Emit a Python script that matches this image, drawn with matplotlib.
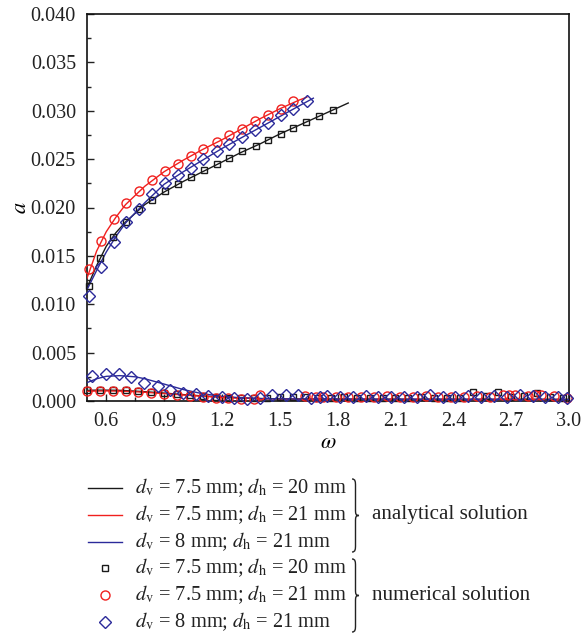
import matplotlib
matplotlib.use("Agg")
import matplotlib.pyplot as plt
from matplotlib.lines import Line2D
from matplotlib.path import Path
from matplotlib.patches import PathPatch
from matplotlib.ticker import MultipleLocator

plt.rcParams['font.family'] = ['Liberation Serif', 'DejaVu Serif']
plt.rcParams['mathtext.fontset'] = 'stix'

# ---------------- analytical solutions (upper branch) ----------------
ana_omega_k = [0.5, 0.55, 0.6, 0.65, 0.7, 0.8, 0.9, 1.0, 1.1, 1.2, 1.3, 1.4, 1.5, 1.6, 1.7, 1.8, 1.855]
ana_a_k = [0.0117, 0.0140, 0.0160, 0.0174, 0.0185, 0.0203, 0.0216, 0.0227, 0.0237, 0.0247,
           0.0257, 0.0266, 0.0276, 0.0285, 0.0294, 0.0303, 0.0308]

ana_omega_r = [0.5, 0.55, 0.6, 0.65, 0.7, 0.8, 0.9, 1.0, 1.1, 1.2, 1.3, 1.4, 1.5, 1.6, 1.64]
ana_a_r = [0.0127, 0.0155, 0.0175, 0.0190, 0.0203, 0.0222, 0.0237, 0.0249, 0.0260, 0.0270,
           0.0281, 0.0292, 0.0302, 0.0311, 0.0314]

ana_omega_b = [0.5, 0.55, 0.6, 0.65, 0.7, 0.8, 0.9, 1.0, 1.1, 1.2, 1.3, 1.4, 1.5, 1.6, 1.674]
ana_a_b = [0.0115, 0.0135, 0.0154, 0.0170, 0.0184, 0.0205, 0.0224, 0.0237, 0.0249, 0.0261,
           0.0272, 0.0283, 0.0294, 0.0305, 0.0313]

# ---------------- analytical solutions (lower branch) ----------------
low_ana_omega = [0.5, 0.55, 0.6, 0.67, 0.75, 0.8, 0.9, 1.0, 1.1, 1.2, 1.3, 1.4, 1.6, 2.0, 2.5, 3.0]
low_ana_k = [0.00110, 0.00112, 0.00112, 0.00110, 0.00102, 0.00096, 0.00082, 0.00066, 0.00052, 0.00040,
             0.00031, 0.00025, 0.00020, 0.00018, 0.00017, 0.00016]
low_ana_r = [0.00100, 0.00103, 0.00104, 0.00102, 0.00096, 0.00090, 0.00077, 0.00062, 0.00049, 0.00038,
             0.00030, 0.00024, 0.00019, 0.00017, 0.00016, 0.00015]
low_ana_b = [0.00190, 0.00230, 0.00255, 0.00262, 0.00250, 0.00230, 0.00175, 0.00118, 0.00075, 0.00048,
             0.00033, 0.00025, 0.00020, 0.00018, 0.00017, 0.00016]

# ---------------- numerical solutions (upper branch) ----------------
num_omega_k = [0.508, 0.569, 0.635, 0.702, 0.771, 0.837, 0.904, 0.971, 1.039, 1.108, 1.174, 1.239,
               1.306, 1.374, 1.441, 1.507, 1.570, 1.636, 1.705, 1.775]
num_a_k = [0.01192, 0.01479, 0.01699, 0.01848, 0.01987, 0.02080, 0.02169, 0.02238, 0.02314, 0.02383,
           0.02453, 0.02515, 0.02580, 0.02635, 0.02701, 0.02764, 0.02826, 0.02881, 0.02946, 0.03005]

num_omega_r = [0.508, 0.572, 0.638, 0.704, 0.771, 0.837, 0.904, 0.970, 1.039, 1.104, 1.174, 1.239,
               1.306, 1.372, 1.438, 1.505, 1.570]
num_a_r = [0.01365, 0.01658, 0.01883, 0.02045, 0.02169, 0.02280, 0.02373, 0.02446, 0.02528, 0.02608,
           0.02677, 0.02746, 0.02815, 0.02891, 0.02953, 0.03023, 0.03098]

num_omega_b = [0.508, 0.572, 0.638, 0.704, 0.771, 0.837, 0.904, 0.970, 1.039, 1.104, 1.174, 1.239,
               1.306, 1.372, 1.441, 1.507, 1.570, 1.640]
num_a_b = [0.01088, 0.01382, 0.01641, 0.01848, 0.01987, 0.02135, 0.02252, 0.02332, 0.02411, 0.02497,
           0.02583, 0.02660, 0.02728, 0.02805, 0.02874, 0.02953, 0.03023, 0.03102]

# ---------------- numerical solutions (lower branch) ----------------
low_omega_k = [0.500, 0.567, 0.633, 0.700, 0.767, 0.833, 0.900, 0.967, 1.033, 1.100, 1.167, 1.233,
               1.300, 1.367, 1.433, 1.500, 1.567, 1.633, 1.700, 1.767, 1.833, 1.900, 1.967, 2.033,
               2.100, 2.167, 2.233, 2.300, 2.367, 2.433, 2.500, 2.567, 2.633, 2.700, 2.767, 2.833,
               2.900, 2.967]
low_a_k = [0.00110, 0.00118, 0.00118, 0.00112, 0.00100, 0.00090, 0.00080, 0.00070, 0.00060, 0.00050,
           0.00042, 0.00036, 0.00030, 0.00030, 0.00035, 0.00040, 0.00045, 0.00045, 0.00035, 0.00035,
           0.00038, 0.00035, 0.00033, 0.00036, 0.00034, 0.00035, 0.00037, 0.00033, 0.00036, 0.00035,
           0.00090, 0.00050, 0.00092, 0.00045, 0.00050, 0.00082, 0.00045, 0.00030]

low_omega_r = [0.500, 0.567, 0.633, 0.700, 0.767, 0.833, 0.900, 0.967, 1.033, 1.100, 1.167, 1.233,
               1.300, 1.367, 1.398, 1.633, 1.690, 1.722, 1.789, 1.856, 1.922, 1.989, 2.056, 2.122,
               2.189, 2.256, 2.322, 2.389, 2.456, 2.522, 2.589, 2.656, 2.690, 2.722, 2.789, 2.822,
               2.856, 2.922, 2.989]
low_a_r = [0.00100, 0.00105, 0.00106, 0.00100, 0.00092, 0.00084, 0.00072, 0.00062, 0.00052, 0.00044,
           0.00036, 0.00030, 0.00025, 0.00022, 0.00060, 0.00055, 0.00040, 0.00038, 0.00040, 0.00045,
           0.00042, 0.00040, 0.00048, 0.00040, 0.00044, 0.00050, 0.00042, 0.00045, 0.00040, 0.00050,
           0.00045, 0.00065, 0.00060, 0.00065, 0.00055, 0.00065, 0.00060, 0.00050, 0.00035]

low_omega_b = [0.526, 0.600, 0.664, 0.730, 0.797, 0.866, 0.932, 0.997, 1.066, 1.130, 1.199, 1.263,
               1.329, 1.398, 1.462, 1.531, 1.596, 1.661, 1.711, 1.745, 1.811, 1.878, 1.945, 2.011,
               2.078, 2.145, 2.211, 2.278, 2.345, 2.411, 2.478, 2.545, 2.611, 2.678, 2.745, 2.811,
               2.878, 2.945, 2.990]
low_a_b = [0.00259, 0.00283, 0.00283, 0.00252, 0.00190, 0.00152, 0.00117, 0.00086, 0.00069, 0.00052,
           0.00041, 0.00028, 0.00024, 0.00028, 0.00059, 0.00059, 0.00059, 0.00034, 0.00040, 0.00055,
           0.00045, 0.00040, 0.00055, 0.00042, 0.00040, 0.00045, 0.00040, 0.00060, 0.00045, 0.00040,
           0.00055, 0.00040, 0.00050, 0.00045, 0.00060, 0.00050, 0.00045, 0.00040, 0.00030]

x_ticks = [0.6, 0.9, 1.2, 1.5, 1.8, 2.1, 2.4, 2.7, 3.0]
y_ticks = [0.000, 0.005, 0.010, 0.015, 0.020, 0.025, 0.030, 0.035, 0.040]

BLACK = '#1a1a1a'
RED = '#f0201e'
BLUE = '#2b2a9a'
TEXT = '#222222'

fig = plt.figure(figsize=(5.82, 6.37), dpi=100)
ax = fig.add_axes([87 / 582, 1 - 401 / 637, (569 - 87) / 582, (401 - 14) / 637])

lw = 1.0
ax.plot(ana_omega_k, ana_a_k, color=BLACK, lw=lw, zorder=3)
ax.plot(ana_omega_r, ana_a_r, color=RED, lw=lw, zorder=3)
ax.plot(ana_omega_b, ana_a_b, color=BLUE, lw=lw, zorder=3)
ax.plot(low_ana_omega, low_ana_k, color=BLACK, lw=lw, zorder=3)
ax.plot(low_ana_omega, low_ana_r, color=RED, lw=lw, zorder=3)
ax.plot(low_ana_omega, low_ana_b, color=BLUE, lw=lw, zorder=3)

SQ, CI, DI = 5.0, 6.5, 6.3
mk = dict(linestyle='none', markerfacecolor='none', markeredgewidth=1.0, zorder=4, clip_on=False)
ax.plot(num_omega_k + low_omega_k, num_a_k + low_a_k, marker='s', markersize=SQ,
        markeredgecolor=BLACK, **mk)
ax.plot(num_omega_r + low_omega_r, num_a_r + low_a_r, marker='o', markersize=CI,
        markeredgecolor=RED, **mk)
ax.plot(num_omega_b + low_omega_b, num_a_b + low_a_b, marker='D', markersize=DI,
        markeredgecolor=BLUE, **mk)

ax.set_xlim(0.5, 3.0)
ax.set_ylim(0.0, 0.040)
ax.set_xticks(x_ticks)
ax.set_yticks(y_ticks)
ax.set_xticklabels([f'{v:.1f}' for v in x_ticks])
ax.set_yticklabels([f'{v:.3f}' for v in y_ticks])
ax.xaxis.set_minor_locator(MultipleLocator(0.15))
ax.yaxis.set_minor_locator(MultipleLocator(0.0025))
ax.tick_params(which='both', direction='in', top=False, right=False, width=1.0, labelsize=14.5,
               colors=TEXT)
ax.tick_params(which='major', length=5)
ax.tick_params(which='minor', length=3)
ax.tick_params(axis='x', pad=8)
ax.tick_params(axis='y', pad=8)
for s in ax.spines.values():
    s.set_linewidth(1.2)
    s.set_color('#111111')

ax.set_xlabel(r'$\omega$', fontsize=16, labelpad=2)
ax.set_ylabel(r'$a$', fontsize=16, labelpad=0)

# ---------------- legend, drawn in figure pixel coordinates ----------------
W, H = 582.0, 637.0


def fx(px):
    return px / W


def fy(py):
    return 1 - py / H


labels = [
    r'$d_\mathrm{v}$ = 7.5 mm; $d_\mathrm{h}$ = 20 mm',
    r'$d_\mathrm{v}$ = 7.5 mm; $d_\mathrm{h}$ = 21 mm',
    r'$d_\mathrm{v}$ = 8 mm; $d_\mathrm{h}$ = 21 mm',
]
rows = [488, 515, 542, 568, 595, 622]
colors = [BLACK, RED, BLUE]
markers = ['s', 'o', 'D']
msizes = [SQ, CI, DI]
LEG_FS = 14.7

for i in range(3):
    y = fy(rows[i])
    fig.add_artist(Line2D([fx(88), fx(122)], [y, y], color=colors[i], lw=1.0,
                          transform=fig.transFigure))
    fig.text(fx(135), y, labels[i], fontsize=LEG_FS, va='center', ha='left', color=TEXT)
for i in range(3):
    y = fy(rows[i + 3])
    fig.add_artist(Line2D([fx(105)], [y], marker=markers[i], markersize=msizes[i],
                          markerfacecolor='none', markeredgecolor=colors[i], markeredgewidth=1.0,
                          linestyle='none', transform=fig.transFigure))
    fig.text(fx(135), y, labels[i], fontsize=LEG_FS, va='center', ha='left', color=TEXT)


def brace(x0, y_top, y_bot, width=7.0):
    """Right-facing curly brace in pixel coordinates."""
    ym = 0.5 * (y_top + y_bot)
    xm = x0 + width * 0.5
    xt = x0 + width
    verts = [
        (x0, y_top), (xm, y_top), (xm, y_top + 3), (xm, y_top + 7),
        (xm, ym - 6),
        (xm, ym - 2), (xm, ym), (xt, ym),
        (xm, ym), (xm, ym + 2), (xm, ym + 6),
        (xm, y_bot - 7),
        (xm, y_bot - 3), (xm, y_bot), (x0, y_bot),
    ]
    codes = [Path.MOVETO, Path.CURVE4, Path.CURVE4, Path.CURVE4,
             Path.LINETO,
             Path.CURVE4, Path.CURVE4, Path.CURVE4,
             Path.CURVE4, Path.CURVE4, Path.CURVE4,
             Path.LINETO,
             Path.CURVE4, Path.CURVE4, Path.CURVE4]
    verts = [(fx(a), fy(b)) for a, b in verts]
    fig.add_artist(PathPatch(Path(verts, codes), facecolor='none', edgecolor=TEXT,
                             lw=1.0, transform=fig.transFigure))


brace(352, 479, 552)
brace(352, 559, 632)
fig.text(fx(372), fy(515), 'analytical solution', fontsize=15.2, va='center', ha='left', color=TEXT)
fig.text(fx(372), fy(595), 'numerical solution', fontsize=15.2, va='center', ha='left', color=TEXT)

fig.savefig('out.png', dpi=100)
